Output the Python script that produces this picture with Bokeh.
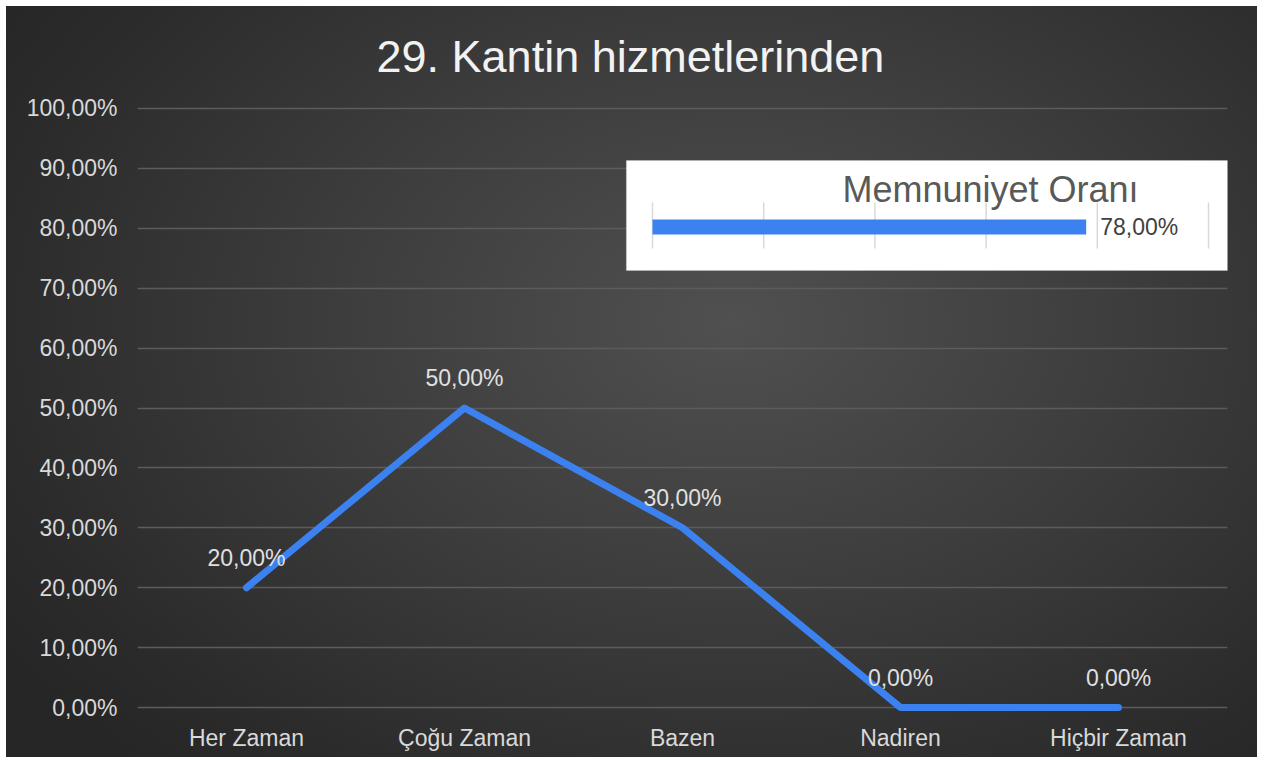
from bokeh.plotting import figure
from bokeh.models import Range1d, FixedTicker, ColumnDataSource, BoxAnnotation
from bokeh.core.properties import value
from bokeh.embed import file_html
from bokeh.resources import INLINE

# ---------------- data ----------------
title_text = "29. Kantin hizmetlerinden"
categories = ["Her Zaman", "Çoğu Zaman", "Bazen", "Nadiren", "Hiçbir Zaman"]
values = [20, 50, 30, 0, 0]
value_labels = ["20,00%", "50,00%", "30,00%", "0,00%", "0,00%"]
y_ticks = [0, 10, 20, 30, 40, 50, 60, 70, 80, 90, 100]
y_tick_labels = ["0,00%", "10,00%", "20,00%", "30,00%", "40,00%", "50,00%",
                 "60,00%", "70,00%", "80,00%", "90,00%", "100,00%"]

inset_title = "Memnuniyet Oranı"
inset_names = ["Memnuniyet Oranı"]
inset_values = [78]
inset_labels = ["78,00%"]
inset_ticks = [0, 20, 40, 60, 80, 100]

# category positions (category i centred in slot i)
xpos = [i + 0.5 for i in range(len(categories))]

# ---------------- layout ----------------
W, H = 1251, 751
FONT = "Liberation Sans"
page_off = 6
frame_left, frame_right = 137, 1227      # page pixels
frame_top, frame_bottom = 99, 716

# inset value axis: 0 -> 652 px, 100 -> 1208 px
ix0, ix100 = 652, 1208
ppu = (ix100 - ix0) / 100.0
inset_start = -(ix0 - frame_left) / ppu
inset_end = inset_start + (frame_right - frame_left) / ppu

p = figure(width=W, height=H,
           x_range=Range1d(0, len(categories)),
           y_range=Range1d(-1.5, 101.5),
           output_backend="svg", toolbar_location=None,
           min_border_left=frame_left - page_off,
           min_border_right=(page_off + W) - frame_right,
           min_border_top=frame_top - page_off,
           min_border_bottom=(page_off + H) - frame_bottom)

p.extra_x_ranges = {"inset": Range1d(inset_start, inset_end)}
# pixel-like vertical range for inset layout (page y, downward)
p.extra_y_ranges = {"py": Range1d(frame_bottom, frame_top)}

p.styles = {"margin": f"{page_off}px",
            "background": "radial-gradient(ellipse 70% 80% at 58% 42%, #505050 0%, #3d3d3d 45%, #2b2b2b 85%, #262626 100%)"}
p.border_fill_alpha = 0
p.background_fill_alpha = 0
p.outline_line_color = None

# title
p.title.text = title_text
p.title.align = "left"
p.title.offset = 376 - frame_left
p.title.standoff = 36
p.title.text_font = FONT
p.title.text_font_size = "45px"
p.title.text_font_style = "normal"
p.title.text_color = "#f2f2f2"

# grid
p.xgrid.visible = False
p.ygrid.ticker = FixedTicker(ticks=y_ticks)
p.ygrid.grid_line_color = "#5c5c5c"
p.ygrid.grid_line_width = 1.5

# axes
for ax in (p.xaxis, p.yaxis):
    ax.axis_line_color = None
    ax.major_tick_line_color = None
    ax.minor_tick_line_color = None
    ax.major_tick_out = 0
    ax.major_tick_in = 0
    ax.major_label_text_font = FONT
    ax.major_label_text_font_size = "23px"
    ax.major_label_text_color = "#d9d9d9"
p.xaxis.ticker = FixedTicker(ticks=xpos, minor_ticks=[])
p.xaxis.major_label_overrides = {x: c for x, c in zip(xpos, categories)}
p.yaxis.ticker = FixedTicker(ticks=y_ticks, minor_ticks=[])
p.yaxis.major_label_overrides = {t: l for t, l in zip(y_ticks, y_tick_labels)}
p.yaxis.major_label_standoff = 20
p.xaxis.major_label_standoff = 8

# main line
src = ColumnDataSource(dict(x=xpos, y=values, lab=value_labels))
p.line("x", "y", source=src, line_color="#3b82f0", line_width=7,
       line_cap="round", line_join="round")
p.text("x", "y", text="lab", source=src, y_offset=-30,
       text_align="center", text_baseline="middle",
       text_font=value(FONT), text_font_size=value("23px"), text_color="#e0e0e0")

# inset box
box = BoxAnnotation(left=-4.7, right=104.3, top=160, bottom=270,
                    x_range_name="inset", y_range_name="py",
                    fill_color="white", fill_alpha=1.0,
                    line_color="#d0d0d0", line_width=1, level="underlay")
p.add_layout(box)

p.segment(x0=inset_ticks, x1=inset_ticks, y0=[202] * len(inset_ticks), y1=[248] * len(inset_ticks),
          x_range_name="inset", y_range_name="py", line_color="#d9d9d9", line_width=1.5)

isrc = ColumnDataSource(dict(name=inset_names, v=inset_values, lab=inset_labels, yc=[226.5]))
p.hbar(y="yc", left=0, right="v", height=15, source=isrc,
       x_range_name="inset", y_range_name="py", fill_color="#3b82f0", line_color=None)
p.text(x="v", y="yc", text="lab", source=isrc, x_offset=14,
       x_range_name="inset", y_range_name="py",
       text_align="left", text_baseline="middle",
       text_font=value(FONT), text_font_size=value("23px"), text_color="#404040")
p.text(x=[60.8], y=[189], text=[inset_title],
       x_range_name="inset", y_range_name="py",
       text_align="center", text_baseline="middle",
       text_font=value(FONT), text_font_size=value("36px"), text_color="#595959")

open("out.html", "w").write(file_html(p, INLINE))
